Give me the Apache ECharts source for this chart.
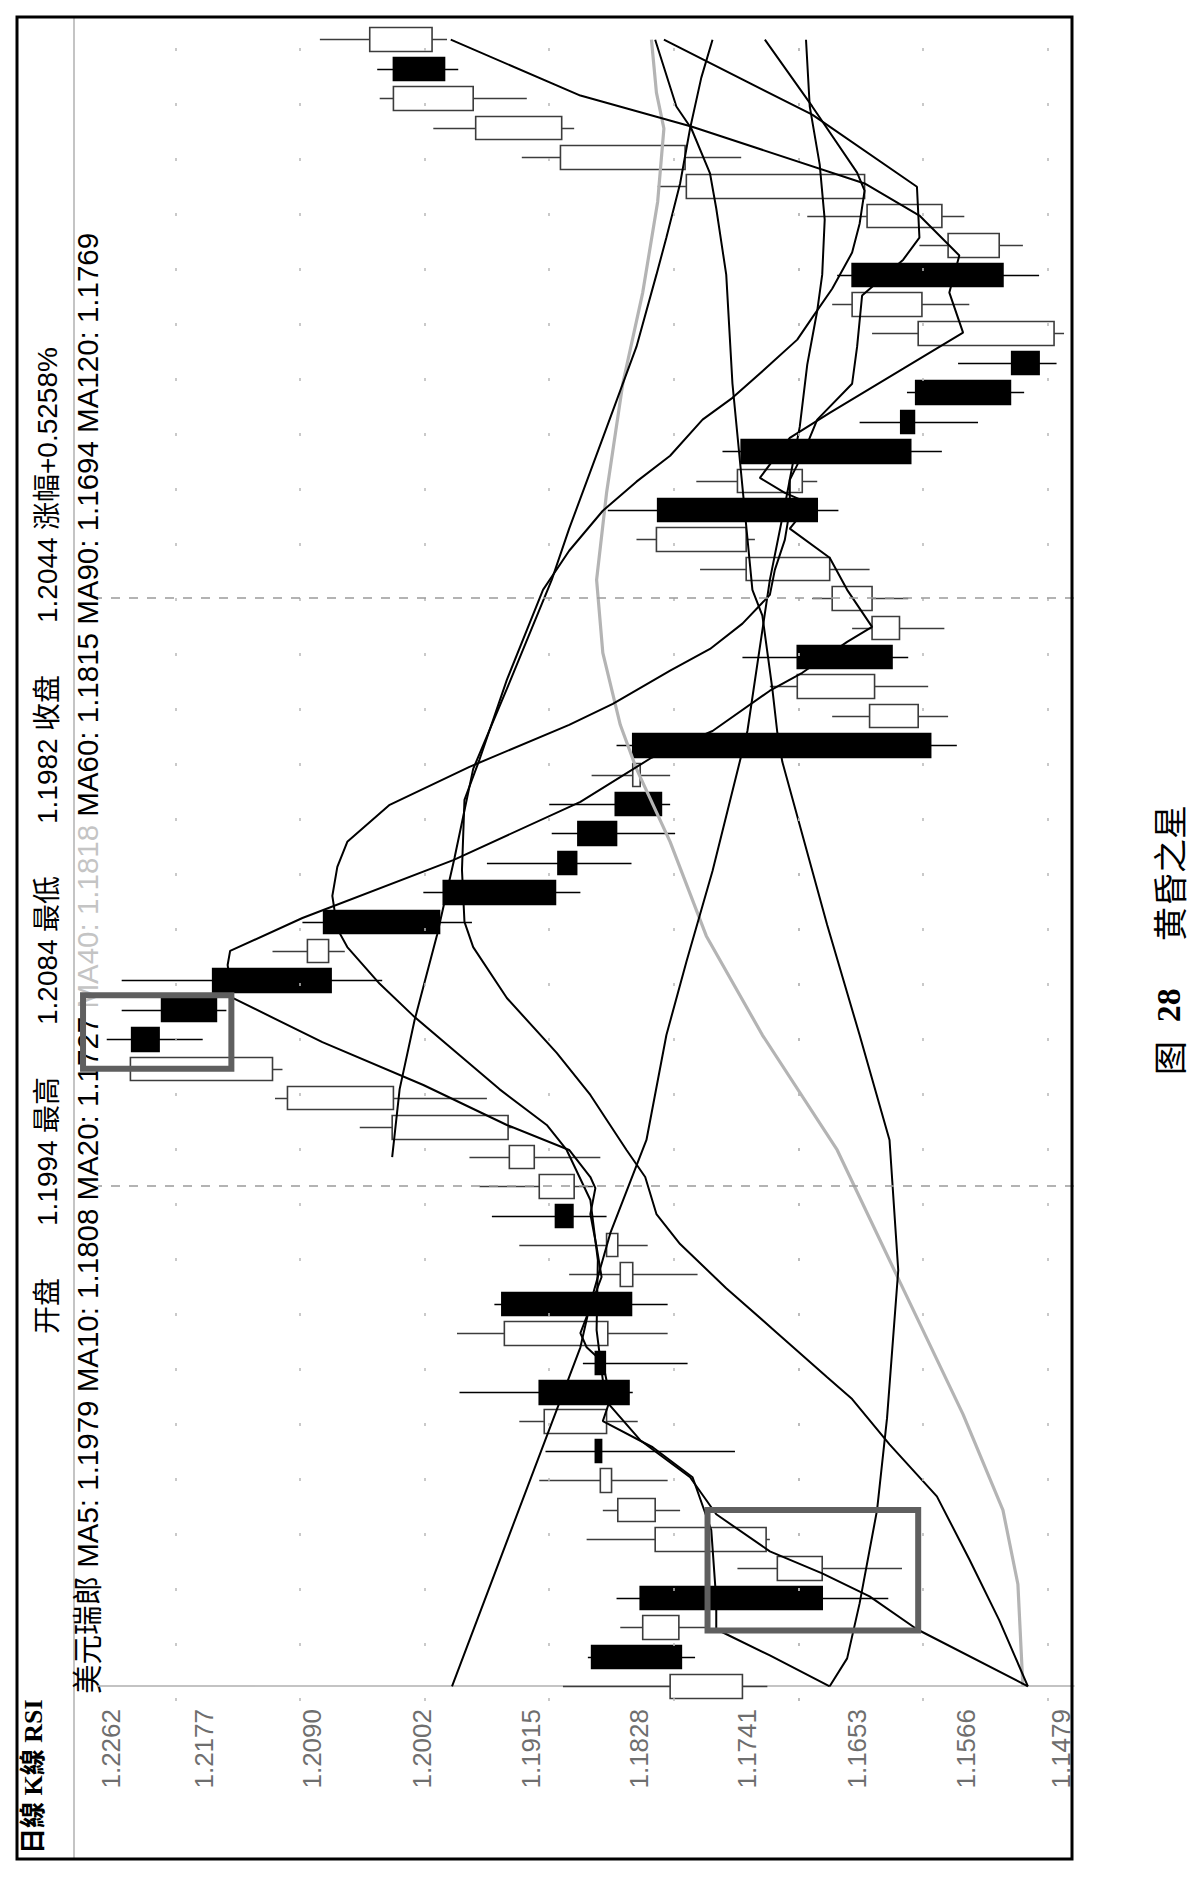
<!DOCTYPE html>
<html><head><meta charset="utf-8">
<script src="https://cdn.jsdelivr.net/npm/echarts@6/dist/echarts.min.js"></script>
<style>
html,body{margin:0;padding:0;background:#fff;overflow:hidden;width:1204px;height:1882px;}
#wrap{position:absolute;left:0;top:0;width:1882px;height:1204px;transform-origin:0 0;transform:translate(0px,1882px) rotate(-90deg);}
#chart{width:1882px;height:1204px;background:#fff;}
</style></head><body>
<div id="wrap"><div id="chart"></div></div>
<script>
// ---- data (earliest bar first) ----
const categories = Array.from({length: 57}, (_, i) => 'D' + (i + 1));
const openPrices  = [1.1745,1.1866,1.1796,1.1827,1.1681,1.1726,1.1815,1.1850,1.1863,1.1854,1.1908,1.1863,1.1853,1.1938,1.1833,1.1845,1.1895,1.1880,1.1912,1.1933,1.2025,1.2122,1.2235,1.2211,1.2170,1.2077,1.2081,1.1985,1.1893,1.1877,1.1847,1.1827,1.1833,1.1604,1.1639,1.1701,1.1619,1.1641,1.1675,1.1742,1.1813,1.1697,1.1746,1.1618,1.1606,1.1529,1.1495,1.1601,1.1657,1.1539,1.1585,1.1647,1.1791,1.1890,1.1961,1.2025,1.1994];
const closePrices = [1.1803,1.1794,1.1825,1.1681,1.1717,1.1815,1.1845,1.1859,1.1858,1.1904,1.1836,1.1855,1.1936,1.1834,1.1843,1.1854,1.1881,1.1908,1.1932,1.2026,1.2110,1.2236,1.2213,1.2167,1.2075,1.2094,1.1988,1.1895,1.1878,1.1846,1.1810,1.1833,1.1594,1.1643,1.1701,1.1625,1.1641,1.1673,1.1742,1.1814,1.1685,1.1749,1.1610,1.1607,1.1530,1.1507,1.1604,1.1657,1.1536,1.1580,1.1645,1.1790,1.1891,1.1959,1.2025,1.1984,1.2044];
const lowPrices   = [1.1725,1.1783,1.1773,1.1628,1.1617,1.1723,1.1795,1.1805,1.1751,1.1829,1.1833,1.1789,1.1805,1.1805,1.1781,1.1821,1.1854,1.1865,1.1859,1.1929,1.1950,1.2114,1.2178,1.2159,1.2034,1.2064,1.1962,1.1875,1.1834,1.1799,1.1803,1.1803,1.1573,1.1580,1.1596,1.1612,1.1583,1.1612,1.1643,1.1735,1.1668,1.1685,1.1585,1.1556,1.1519,1.1493,1.1487,1.1563,1.1507,1.1520,1.1567,1.1647,1.1746,1.1880,1.1918,1.1973,1.1982];
const highPrices  = [1.1889,1.1869,1.1843,1.1846,1.1749,1.1870,1.1857,1.1908,1.1903,1.1924,1.1972,1.1873,1.1974,1.1944,1.1884,1.1924,1.1946,1.1956,1.1964,1.2052,1.2120,1.2240,1.2255,1.2243,1.2243,1.2122,1.2098,1.2001,1.1950,1.1898,1.1900,1.1866,1.1846,1.1673,1.1723,1.1745,1.1657,1.1689,1.1779,1.1830,1.1853,1.1782,1.1761,1.1651,1.1613,1.1572,1.1641,1.1673,1.1669,1.1603,1.1693,1.1813,1.1922,1.1993,1.2036,1.2038,1.2084];

// moving-average curves: [bar position, price]
const ma5 = [[0,1.1675],[1.05,1.1723],[1.94,1.1766],[2.93,1.1766],[5.31,1.1770],[7.11,1.1785],[8.13,1.1817],[9.02,1.1857],[9.77,1.1851],[11.02,1.1857],[11.53,1.1870],[12.01,1.1875],[12.9,1.1867],[13.92,1.1858],[14.94,1.1862],[16.06,1.1867],[16.94,1.1863],[17.32,1.1867],[18.24,1.1884],[19.09,1.1934],[20.45,1.2001],[21.91,1.2082],[23.41,1.2154],[24.53,1.2158],[25.01,1.2156],[26.13,1.2098],[28.1,1.1977],[30.08,1.1875],[31.58,1.1818],[32.49,1.1769],[33.86,1.1723],[34.47,1.1697],[35.52,1.1661],[36.03,1.1641],[37.29,1.1661],[38.38,1.1675],[39.37,1.1707],[40.22,1.1691],[40.59,1.1711],[41.1,1.1731],[42.46,1.1707],[43.31,1.1675],[44.81,1.1616],[46.04,1.1568],[47.4,1.1579],[48.66,1.1571],[50.02,1.1603],[51.11,1.1647],[53.05,1.1786],[54.1,1.1875],[56,1.1979]];
const ma10 = [[0,1.1516],[1.94,1.1605],[3.06,1.1643],[3.84,1.1681],[4.59,1.1723],[5.85,1.1766],[7.11,1.1787],[8.37,1.1827],[9.73,1.1855],[12.11,1.1862],[14.49,1.1861],[16.54,1.1867],[18.24,1.1886],[19.09,1.1902],[20.31,1.1940],[21.54,1.1974],[22.8,1.2009],[23.89,1.2036],[25.14,1.2062],[25.76,1.2070],[26.88,1.2074],[27.87,1.2070],[28.72,1.2062],[29.98,1.2028],[31.27,1.1964],[32.7,1.1884],[33.41,1.1849],[34.54,1.1803],[35.28,1.1771],[36.14,1.1745],[37.12,1.1723],[37.97,1.1719],[38.99,1.1711],[40.01,1.1707],[41.03,1.1707],[42.05,1.1695],[43.08,1.1685],[44.3,1.1657],[45.56,1.1653],[47.3,1.1649],[48.52,1.1616],[49.27,1.1603],[51.0,1.1605],[53.45,1.1689],[56,1.1808]];
const ma20 = [[0,1.1516],[2.25,1.1539],[4.32,1.1563],[6.46,1.1589],[8.23,1.1627],[9.77,1.1657],[10.51,1.1677],[12.01,1.1717],[13.54,1.1758],[15.04,1.1795],[16.06,1.1814],[17.32,1.1823],[18.24,1.1838],[20.11,1.1867],[21.54,1.1894],[23.41,1.1934],[25.14,1.1961],[26.0,1.1968],[27.76,1.1970],[30.15,1.1968],[31.51,1.1956],[34.23,1.1934],[37.29,1.1905],[38.62,1.1884],[39.98,1.1857],[40.97,1.1830],[41.85,1.1803],[43.08,1.1777],[43.82,1.1753],[44.95,1.1723],[45.8,1.1701],[46.55,1.1689],[47.53,1.1673],[48.76,1.1657],[49.74,1.1651],[50.87,1.1647],[51.48,1.1653],[53.73,1.1689],[56,1.1727]];
const ma40 = [[0,1.1520],[3.47,1.1524],[5.99,1.1536],[9.25,1.1568],[13.78,1.1619],[18.24,1.1669],[22.15,1.1729],[25.52,1.1774],[28.72,1.1803],[31.2,1.1830],[32.7,1.1843],[35.15,1.1857],[37.63,1.1862],[40.59,1.1854],[44.3,1.1841],[47.4,1.1825],[50.49,1.1813],[52.98,1.1808],[54.2,1.1814],[56,1.1818]];
const ma60 = [[0,1.1675],[0.95,1.1661],[2.82,1.1651],[5.99,1.1637],[9.12,1.1629],[14.15,1.1620],[18.58,1.1627],[22.15,1.1651],[25.89,1.1677],[31.44,1.1713],[32.43,1.1717],[33.92,1.1721],[36.41,1.1729],[37.29,1.1737],[44.3,1.1753],[48.01,1.1758],[50.26,1.1766],[51.45,1.1771],[52.98,1.1786],[53.73,1.1798],[56,1.1815]];
const ma90 = [[0,1.1978],[11.53,1.1875],[13.03,1.1867],[15.41,1.1851],[18.58,1.1822],[22.15,1.1806],[24.63,1.1790],[27.73,1.1769],[32.49,1.1741],[37.63,1.1723],[40.59,1.1709],[42.84,1.1699],[44.95,1.1693],[46.78,1.1685],[48.01,1.1681],[49.88,1.1679],[51.75,1.1683],[53.73,1.1691],[56,1.1694]];
const ma120 = [[18.0,1.2026],[20.31,1.2020],[22.66,1.2008],[25.55,1.1990],[28.17,1.1976],[31.2,1.1961],[33.92,1.1934],[37.63,1.1898],[39.37,1.1884],[42.46,1.1857],[45.56,1.1830],[48.01,1.1814],[49.27,1.1806],[51.11,1.1795],[52.98,1.1787],[54.71,1.1778],[56,1.1769]];

const priceTicks = [1.1479,1.1566,1.1653,1.1741,1.1828,1.1915,1.2002,1.2090,1.2177,1.2262];
const timeGridBars = [17, 37];
// highlighted patterns (bar span, price span)
const boxMorning = {bars: [1.9, 6.0], prices: [1.1604, 1.1773]};
const boxEvening = {bars: [21.0, 23.5], prices: [1.2155, 1.2274]};
const headerLabels = ['开盘','最高','最低','收盘'];
const changeText = '涨幅+0.5258%';
const symbolName = '美元瑞郎';
const maNames = ['MA5','MA10','MA20','MA40','MA60','MA90','MA120'];
const maLines = [ma5, ma10, ma20, ma40, ma60, ma90, ma120];

// ---- build ----
const N = categories.length;
const last = N - 1;
const candleData = openPrices.map((o, i) => [o, closePrices[i], lowPrices[i], highPrices[i]]);
const rectPath = b => [[b.bars[0], b.prices[1]], [b.bars[1], b.prices[1]], [b.bars[1], b.prices[0]], [b.bars[0], b.prices[0]], [b.bars[0], b.prices[1]]];

const chart = echarts.init(document.getElementById('chart'), null, {renderer: 'svg', width: 1882, height: 1204});

const maSeries = maLines.map((d, k) => ({
  type: 'line', name: maNames[k], xAxisIndex: 1, yAxisIndex: 0, data: d,
  symbol: 'none', silent: true, z: k === 3 ? 3 : 4,
  lineStyle: k === 3 ? {color: '#b4b4b4', width: 3.2} : {color: '#000', width: 2}
}));

const boxSeries = [boxMorning, boxEvening].map(b => ({
  type: 'line', xAxisIndex: 1, yAxisIndex: 0, data: rectPath(b), symbol: 'none',
  clip: false, silent: true, z: 6,
  lineStyle: {color: '#5f5f5f', width: 6, join: 'miter', cap: 'square'}
}));

const sansFont = '"Liberation Sans", Arial, "Noto Sans CJK SC", sans-serif';
const cjkFont = '"Liberation Sans", "Noto Sans CJK SC", sans-serif';

// header: OHLC of latest bar — "label  value" pairs with a fixed gap after each label
const hdrValues = [openPrices[last], highPrices[last], lowPrices[last], closePrices[last]].map(v => v.toFixed(4));
const hdrY = 47, hdrFont = 28;
const hdrStart = 548, hdrGap = 52, hdrLabelW = 56, hdrValW = 86, hdrSep = 7;
const hdrEls = [];
let cx = hdrStart;
for (let k = 0; k < 4; k++) {
  hdrEls.push({type: 'text', x: cx, y: hdrY, silent: true, style: {text: headerLabels[k], fill: '#000', fontSize: hdrFont, fontFamily: cjkFont, verticalAlign: 'middle', align: 'left'}});
  cx += hdrLabelW + hdrGap;
  hdrEls.push({type: 'text', x: cx, y: hdrY, silent: true, style: {text: hdrValues[k], fill: '#000', fontSize: hdrFont, fontFamily: sansFont, verticalAlign: 'middle', align: 'left'}});
  cx += hdrValW + hdrSep;
}
hdrEls.push({type: 'text', x: cx, y: hdrY, silent: true, style: {text: changeText, fill: '#000', fontSize: hdrFont, fontFamily: cjkFont, verticalAlign: 'middle', align: 'left'}});

const legendText = symbolName + ' ' + maNames.map((n, k) => {
  const v = maLines[k][maLines[k].length - 1][1].toFixed(4);
  return k === 3 ? '{g|' + n + ': ' + v + '}' : n + ': ' + v;
}).join(' ');

chart.setOption({
  animation: false,
  backgroundColor: '#fff',
  grid: {left: 181, right: 25, top: 98, bottom: 130},
  xAxis: [
    {type: 'category', data: categories, boundaryGap: true, axisLine: {show: false}, axisTick: {show: false}, axisLabel: {show: false}, splitLine: {show: false}},
    {type: 'value', min: -0.5, max: N - 0.5, show: false, splitLine: {show: false}}
  ],
  yAxis: {
    type: 'value', min: priceTicks[0], max: priceTicks[priceTicks.length - 1], scale: true,
    axisLine: {show: true, lineStyle: {color: '#b0b0b0', width: 1.5}},
    axisTick: {show: false}, splitLine: {show: false},
    axisLabel: {customValues: priceTicks, formatter: v => Number(v).toFixed(4), color: '#6e6e6e', fontSize: 26, fontFamily: sansFont, margin: 8,
      verticalAlignMinLabel: 'bottom', verticalAlignMaxLabel: 'top'}
  },
  series: [
    {
      type: 'candlestick', data: candleData, barWidth: 24, z: 2,
      itemStyle: {color: '#fff', color0: '#000', borderColor: '#3c3c3c', borderColor0: '#000', borderWidth: 1.6},
      markLine: {
        silent: true, symbol: 'none', label: {show: false}, animation: false,
        data: priceTicks.map(v => ({yAxis: v, lineStyle: {color: '#b8b8b8', type: [3, 52], width: 1.5}}))
          .concat(timeGridBars.map(i => ({xAxis: categories[i], lineStyle: {color: '#9a9a9a', type: [9, 9], width: 1.5}})))
      }
    }
  ].concat(maSeries, boxSeries),
  graphic: {elements: [
    {type: 'line', silent: true, shape: {x1: 23, y1: 74, x2: 1865, y2: 74}, style: {stroke: '#b0b0b0', lineWidth: 1.5}},
    {type: 'text', x: 28, y: 33, silent: true, style: {text: '日線 K線 RSI', fill: '#000', fontSize: 26, fontWeight: 'bold', fontFamily: '"Liberation Serif", "Noto Sans CJK TC", serif', verticalAlign: 'middle', align: 'left'}},
    ...hdrEls,
    {type: 'text', x: 188, y: 87, silent: true, style: {text: legendText, fill: '#000', fontSize: 29.5, fontFamily: cjkFont, verticalAlign: 'middle', align: 'left', rich: {g: {fill: '#c4c4c4', fontSize: 29.5, fontFamily: sansFont}}}},
    {type: 'text', x: 942, y: 1168, silent: true, style: {text: '{c|图}  {n|28}     {c|黄昏之星}', fill: '#000', fontSize: 34, fontFamily: '"Liberation Sans", sans-serif', align: 'center', verticalAlign: 'middle',
      rich: {c: {fontSize: 34, fontFamily: '"Noto Sans CJK SC", sans-serif', fill: '#000'}, n: {fontSize: 34, fontWeight: 'bold', fontFamily: '"Liberation Serif", serif', fill: '#000'}}}},
    {type: 'rect', silent: true, z: 100, shape: {x: 23, y: 17, width: 1842, height: 1055}, style: {fill: 'none', stroke: '#000', lineWidth: 3}}
  ]}
});
</script></body></html>
